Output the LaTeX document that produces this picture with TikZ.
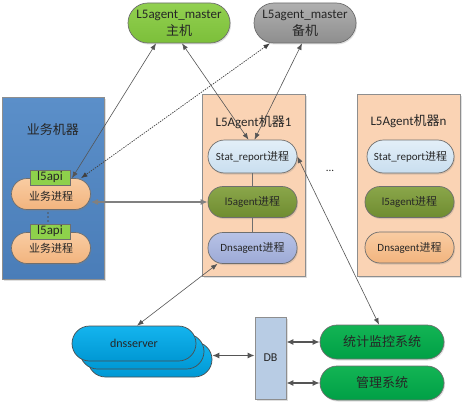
\documentclass[tikz,border=0pt]{standalone}
\usepackage{fontspec}
\setmainfont{Carlito}
\newfontfamily\zhfont{Noto Sans CJK SC}
\newcommand\zh[1]{{\zhfont #1}}
\usetikzlibrary{arrows.meta,shadows}
\definecolor{mgreen}{HTML}{92D050}
\definecolor{mgreenb}{HTML}{7CBF3A}
\definecolor{mgray}{HTML}{B0B0B0}
\definecolor{mgrayb}{HTML}{8E8E8E}
\definecolor{bizblue}{HTML}{5B8FC9}
\definecolor{bizblueb}{HTML}{4A7DB8}
\definecolor{agbox}{HTML}{FAD3B4}
\definecolor{statc}{HTML}{E3EFF8}
\definecolor{statcb}{HTML}{C9DEEF}
\definecolor{olive}{HTML}{8AA64A}
\definecolor{oliveb}{HTML}{6F8C30}
\definecolor{lav}{HTML}{B7C2E6}
\definecolor{lavb}{HTML}{9DAAD6}
\definecolor{peach}{HTML}{F9CCA2}
\definecolor{peachb}{HTML}{F2B47E}
\definecolor{apig}{HTML}{8ED14B}
\definecolor{dnsc}{HTML}{14B4EE}
\definecolor{dnscb}{HTML}{0098D4}
\definecolor{dbc}{HTML}{B8CCE4}
\definecolor{sysg}{HTML}{13B454}
\definecolor{sysgb}{HTML}{00A046}
\definecolor{edge}{HTML}{6E6E6E}
\definecolor{txt}{HTML}{262626}
\definecolor{conn}{HTML}{555555}
\tikzset{
  pill/.style={draw=edge, line width=0.7pt, inner sep=0pt, text=txt,
    drop shadow={opacity=0.25, shadow xshift=1pt, shadow yshift=-1.5pt}},
  boxr/.style={draw=mgrayb, line width=0.8pt, inner sep=0pt,
    drop shadow={opacity=0.25, shadow xshift=1.5pt, shadow yshift=-1.5pt}},
  proc/.style={pill, rounded corners=15pt, minimum width=89pt, minimum height=31pt,
    font=\fontsize{11}{13}\selectfont},
  biz/.style={pill, rounded corners=15.5pt, minimum width=79pt, minimum height=31pt,
    top color=peach, bottom color=peachb, font=\fontsize{11}{13}\selectfont},
  api/.style={draw=edge, line width=0.6pt, fill=apig, minimum width=40pt, minimum height=15pt,
    inner sep=0pt, text=txt, font=\fontsize{13}{15}\selectfont},
  sys/.style={pill, rounded corners=17pt, minimum width=124pt, minimum height=34pt,
    top color=sysg, bottom color=sysgb, font=\fontsize{13}{15}\selectfont},
  dns/.style={draw=edge!70!black, line width=0.7pt, rounded corners=17.5pt,
    minimum width=124pt, minimum height=35pt, inner sep=0pt, top color=dnsc, bottom color=dnscb,
    font=\fontsize{12}{14}\selectfont, text=txt},
  title/.style={text=txt, font=\fontsize{13}{15}\selectfont},
  arr/.style={draw=conn, line width=0.6pt,
    {Latex[length=6.5pt,width=5pt]}-{Latex[length=6.5pt,width=5pt]}},
  dotarr/.style={arr, draw=black!75, dash pattern=on 1.4pt off 1.1pt, line width=0.7pt},
  thick arr/.style={draw=gray, line width=1.6pt,
    {Latex[length=7pt,width=6pt]}-{Latex[length=7pt,width=6pt]}},
  db arr/.style={draw=conn, line width=1.2pt,
    {Latex[length=7pt,width=6pt]}-{Latex[length=7pt,width=6pt]}},
  link/.style={draw=edge, line width=0.8pt},
  dotmark/.style={circle, fill=txt!80, inner sep=0pt, minimum size=1.6pt}
}
\begin{document}
\begin{tikzpicture}[x=1pt,y=-1pt]
\useasboundingbox (0,0) rectangle (463,404);
\fill[white] (0,0) rectangle (463,404);

% masters
\node[pill, rounded corners=20pt, minimum width=102pt, minimum height=40pt, align=center,
  top color=mgreen, bottom color=mgreenb, font=\fontsize{13}{17}\selectfont] (m1) at (179,23)
  {L5agent\_master\\\zh{主机}};
\node[pill, rounded corners=20pt, minimum width=102pt, minimum height=40pt, align=center,
  top color=mgray, bottom color=mgrayb, font=\fontsize{13}{17}\selectfont] (m2) at (305,23)
  {L5agent\_master\\\zh{备机}};

% business machine
\node[boxr, top color=bizblue, bottom color=bizblueb, minimum width=102pt, minimum height=182pt] (bizbox) at (53,188) {};
\node[title, text=black!85] (biztitle) at (53,130) {\zh{业务机器}};
\node[biz, text depth=0pt] (p1) at (51,194) {\raisebox{-4pt}{\zh{业务进程}}};
\node[api] (api1) at (50,177.5) {l5api};
\node[dotmark] (vd1) at (48,213) {};
\node[dotmark] (vd2) at (48,217) {};
\node[dotmark] (vd3) at (48,221) {};
\node[biz] (p2) at (51,248) {\raisebox{-4pt}{\zh{业务进程}}};
\node[api] (api2) at (50,231.5) {l5api};

% agent machine 1
\node[boxr, fill=agbox, minimum width=103pt, minimum height=182pt] (ag1) at (253.5,185) {};
\node[title] (ag1t) at (253.5,122) {L5Agent\zh{机器}1};
\node[proc, minimum height=33pt, rounded corners=16.5pt, top color=statc, bottom color=statcb] (s1) at (252.5,156.5) {Stat\_report\zh{进程}};
\node[proc, top color=olive, bottom color=oliveb] (l5a) at (252.5,202) {l5agent\zh{进程}};
\node[proc, top color=lav, bottom color=lavb] (d1) at (252.5,248) {Dnsagent\zh{进程}};
\draw[link] (s1.south) -- (l5a.north);
\draw[link] (l5a.south) -- (d1.north);

% agent machine n
\node[boxr, fill=agbox, minimum width=103pt, minimum height=182pt] (agn) at (408.5,185) {};
\node[title] (agnt) at (408.5,121) {L5Agent\zh{机器}n};
\node[proc, minimum width=87pt, minimum height=33pt, rounded corners=16.5pt, top color=statc, bottom color=statcb] (sn) at (410.5,156.5) {Stat\_report\zh{进程}};
\node[proc, top color=olive, bottom color=oliveb] (l5n) at (409.5,202) {l5agent\zh{进程}};
\node[proc, top color=peach, bottom color=peachb] (dn) at (409.5,247.5) {Dnsagent\zh{进程}};

\node[text=txt, font=\fontsize{11}{13}\selectfont] (ell) at (330,171) {...};

% dnsserver stack
\node[dns] (ds3) at (150,359.5) {};
\node[dns] (ds2) at (142,351.5) {};
\node[dns] (ds1) at (134,343.5) {dnsserver};

% DB and systems
\node[boxr, fill=dbc, minimum width=31pt, minimum height=82pt, text=txt, font=\fontsize{12}{14}\selectfont] (db) at (270.5,358) {DB};
\node[sys] (t1) at (382,342) {\zh{统计监控系统}};
\node[sys] (g1) at (382,383) {\zh{管理系统}};

% connectors
\draw[arr] ([xshift=-23pt]m1.south) -- ([xshift=21pt]p1.north);
\draw[arr] ([xshift=3pt]m1.south) -- ([xshift=-4pt]s1.north);
\draw[arr] ([xshift=-3pt]m2.south) -- ([xshift=2pt]s1.north);
\draw[dotarr] ([xshift=-35pt]m2.south) -- ([xshift=30pt]p1.north);
\draw[thick arr] (p1.east |- l5a.west) -- (l5a.west);
\draw[arr] ([xshift=-35pt]d1.south) -- ([xshift=3pt]ds1.north);
\draw[arr] (s1.east) -- ([xshift=-3pt]t1.north);
\draw[db arr] ([yshift=4pt]ds3.east) -- ([yshift=4pt]ds3.east -| db.west);
\draw[db arr] (t1.west -| db.east) -- (t1.west);
\draw[db arr] (g1.west -| db.east) -- (g1.west);
\end{tikzpicture}
\end{document}
